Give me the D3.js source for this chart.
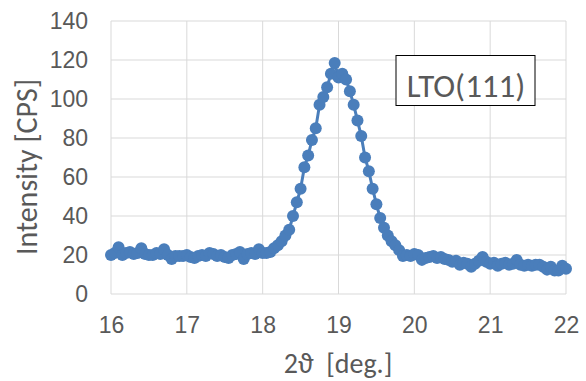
<!DOCTYPE html>
<html>
<head>
<meta charset="utf-8">
<script src="https://cdn.jsdelivr.net/npm/d3@7"></script>
<style>
  html, body { margin: 0; padding: 0; background: #fff; }
  svg { display: block; font-family: Carlito, Calibri, "Open Sans", sans-serif; }
</style>
</head>
<body>
<div id="chart"></div>
<script>
// 2theta positions (deg.)
const twoTheta = [
  16.00, 16.05, 16.10, 16.15, 16.20, 16.25, 16.30, 16.35, 16.40, 16.45,
  16.50, 16.55, 16.60, 16.65, 16.70, 16.75, 16.80, 16.85, 16.90, 16.95,
  17.00, 17.05, 17.10, 17.15, 17.20, 17.25, 17.30, 17.35, 17.40, 17.45,
  17.50, 17.55, 17.60, 17.65, 17.70, 17.75, 17.80, 17.85, 17.90, 17.95,
  18.00, 18.05, 18.10, 18.15, 18.20, 18.25, 18.30, 18.35, 18.40, 18.45,
  18.50, 18.55, 18.60, 18.65, 18.70, 18.75, 18.80, 18.85, 18.90, 18.95,
  19.00, 19.05, 19.10, 19.15, 19.20, 19.25, 19.30, 19.35, 19.40, 19.45,
  19.50, 19.55, 19.60, 19.65, 19.70, 19.75, 19.80, 19.85, 19.90, 19.95,
  20.00, 20.05, 20.10, 20.15, 20.20, 20.25, 20.30, 20.35, 20.40, 20.45,
  20.50, 20.55, 20.60, 20.65, 20.70, 20.75, 20.80, 20.85, 20.90, 20.95,
  21.00, 21.05, 21.10, 21.15, 21.20, 21.25, 21.30, 21.35, 21.40, 21.45,
  21.50, 21.55, 21.60, 21.65, 21.70, 21.75, 21.80, 21.85, 21.90, 21.95,
  22.00
];
// intensity (CPS)
const intensity = [
  20, 21, 24, 20, 21, 21.5, 20.5, 21, 23.5, 20.5,
  20, 20, 21, 20.5, 23, 20, 18, 19.5, 19.5, 19.5,
  20, 19, 18.5, 19.5, 20, 19.5, 21, 20.5, 19.5, 20,
  19, 18.5, 20, 20.5, 21.5, 18, 20.5, 21, 20.5, 23,
  21, 21, 21.5, 23.5, 25, 27, 30, 33, 40, 47,
  54, 65, 71, 79, 85, 97, 101, 106, 113, 118.5,
  111, 113, 110, 104, 97, 89, 81, 70, 63, 54,
  46, 39, 34, 30, 27, 25, 22.5, 19.5, 20, 19.5,
  20.5, 20, 17.5, 18.5, 19, 19.5, 18.5, 19, 18, 17.5,
  16.5, 17, 15, 16, 15.5, 14, 15.5, 17, 19, 16.5,
  15.5, 16, 14.5, 15.5, 16, 15, 15.5, 17.5, 15, 14.5,
  15, 14.5, 15, 15, 14, 12.5, 14, 12, 12, 14.5,
  13
];
const xTicks = [16, 17, 18, 19, 20, 21, 22];
const yTicks = [0, 20, 40, 60, 80, 100, 120, 140];
const peakLabel = "LTO(111)";

const W = 586, H = 381;
const margin = {left: 111, right: 20, top: 21, bottom: 87};
const color = "#4a7ebb";
const textColor = "#595959";
const gridColor = "#d9d9d9";

const svg = d3.select("#chart").append("svg")
  .attr("width", W).attr("height", H);

const x = d3.scaleLinear().domain([16, 22]).range([margin.left, W - margin.right]);
const y = d3.scaleLinear().domain([0, 140]).range([H - margin.bottom, margin.top]);

// gridlines
svg.append("g").selectAll("line.h").data(yTicks).enter().append("line")
  .attr("x1", x(16)).attr("x2", x(22))
  .attr("y1", d => y(d)).attr("y2", d => y(d))
  .attr("stroke", gridColor).attr("stroke-width", 1);
svg.append("g").selectAll("line.v").data(xTicks).enter().append("line")
  .attr("x1", d => x(d)).attr("x2", d => x(d))
  .attr("y1", y(0)).attr("y2", y(140))
  .attr("stroke", gridColor).attr("stroke-width", 1);

// axes (labels only)
const yAxis = svg.append("g")
  .attr("transform", "translate(" + (margin.left - 23) + ",0)")
  .call(d3.axisLeft(y).tickValues(yTicks).tickSize(0).tickPadding(0));
yAxis.select(".domain").remove();
yAxis.selectAll("text").attr("fill", textColor).style("font-size", "23px").attr("dy", "0.33em");

const xAxis = svg.append("g")
  .attr("transform", "translate(0,333)")
  .call(d3.axisBottom(x).tickValues(xTicks).tickFormat(d3.format("d")).tickSize(0).tickPadding(0));
xAxis.select(".domain").remove();
xAxis.selectAll("text").attr("fill", textColor).style("font-size", "23px").attr("dy", 0);

// series
const pts = twoTheta.map((t, i) => [t, intensity[i]]);
svg.append("path")
  .datum(pts)
  .attr("fill", "none")
  .attr("stroke", color)
  .attr("stroke-width", 3)
  .attr("d", d3.line().x(d => x(d[0])).y(d => y(d[1])));
svg.append("g").selectAll("circle").data(pts).enter().append("circle")
  .attr("cx", d => x(d[0])).attr("cy", d => y(d[1]))
  .attr("r", 6)
  .attr("fill", color);

// label box
const box = svg.append("g");
box.append("rect")
  .attr("x", 396).attr("y", 55.5)
  .attr("width", 139).attr("height", 50)
  .attr("fill", "#fff").attr("stroke", "#000").attr("stroke-width", 1);
box.append("text")
  .attr("x", 466).attr("y", 97)
  .attr("text-anchor", "middle")
  .attr("fill", textColor).style("font-size", "33px")
  .text(peakLabel);

// axis titles
svg.append("text")
  .attr("x", 338).attr("y", 373)
  .attr("text-anchor", "middle")
  .attr("fill", textColor).style("font-size", "28px")
  .style("white-space", "pre")
  .text("2\u03D1  [deg.]");
svg.append("text")
  .attr("transform", "translate(36.5,167) rotate(-90)")
  .attr("text-anchor", "middle")
  .attr("fill", textColor).style("font-size", "30px")
  .text("Intensity [CPS]");
</script>
</body>
</html>
